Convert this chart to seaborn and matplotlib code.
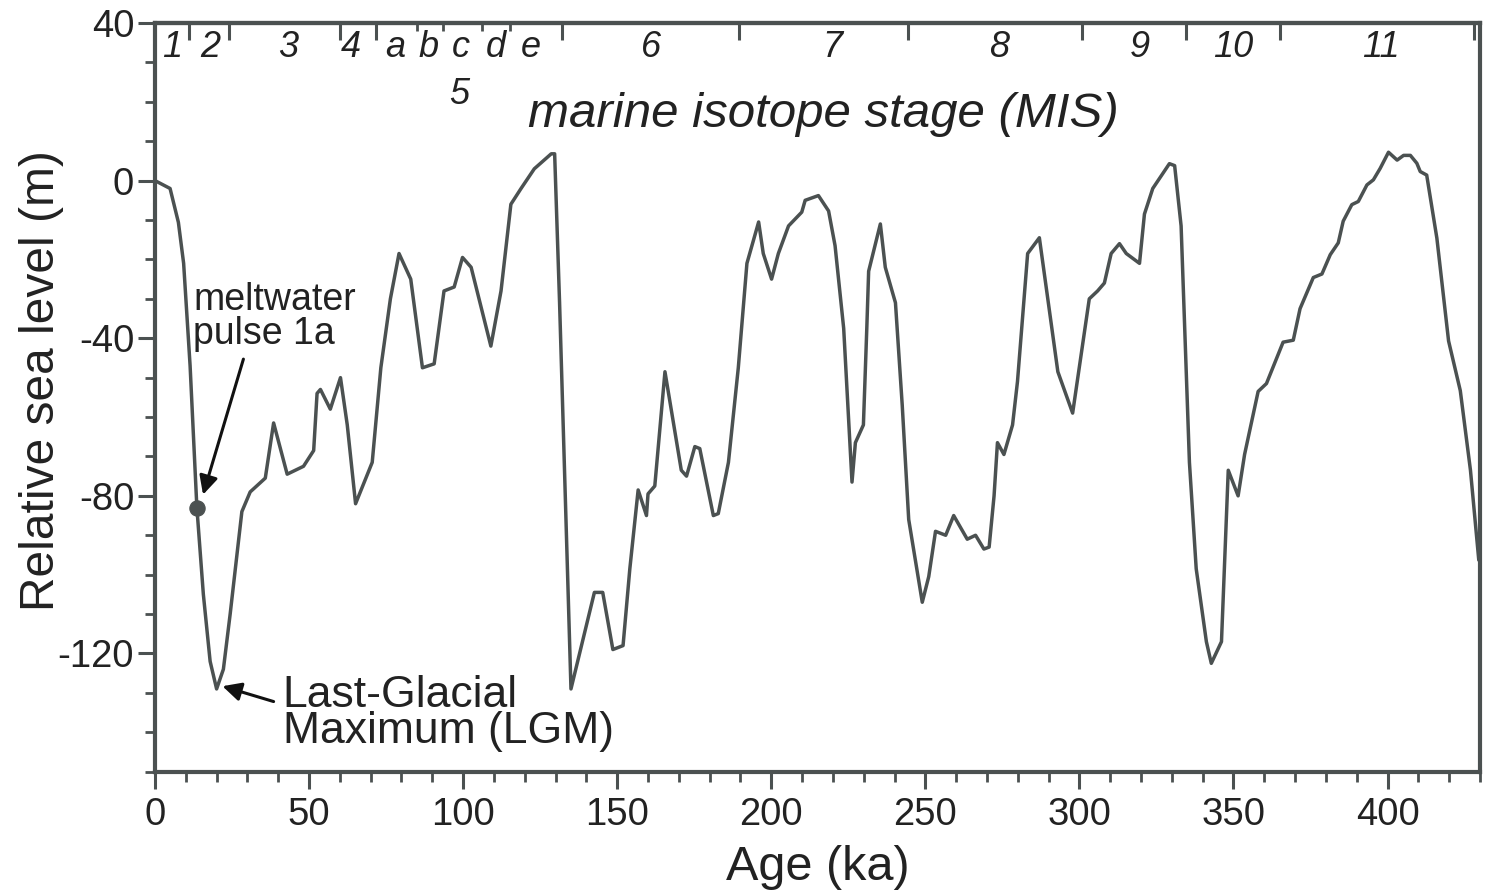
import matplotlib
matplotlib.use("Agg")
import matplotlib.pyplot as plt
import seaborn as sns
import pandas as pd

# ---- data ----
age_ka = [0, 4.9, 7.6, 9.3, 11.4, 13.6, 15.7, 17.9, 20.0, 22.2, 24.4, 28.2, 30.9, 35.8,
          38.5, 42.9, 48.2, 51.5, 52.6, 53.7, 56.9, 60.2, 62.4, 65.1, 70.5, 73.3, 76.4,
          79.2, 83.0, 86.8, 90.6, 93.8, 97.1, 99.8, 102.6, 109.0, 112.3, 115.5, 118.8,
          123.1, 128.6, 129.7, 131.3, 135.0, 142.6, 145.3, 148.6, 151.9, 154.1, 156.8,
          159.5, 160.0, 162.2, 165.5, 170.8, 172.5, 175.2, 176.8, 181.2, 182.8, 186.1,
          189.3, 192.1, 195.9, 197.4, 200.1, 202.3, 205.6, 209.9, 211.0, 215.3, 218.6,
          220.7, 223.5, 226.2, 227.3, 229.9, 231.0, 231.6, 235.4, 237.0, 240.3, 242.5,
          244.6, 249.0, 251.1, 253.3, 256.6, 259.2, 263.6, 266.3, 269.0, 270.7, 272.3,
          273.4, 275.5, 278.3, 279.9, 283.2, 287.0, 293.0, 297.8, 303.2, 305.9, 308.1,
          310.3, 313.0, 315.2, 319.5, 321.1, 323.8, 329.2, 330.9, 333.0, 335.7, 337.9,
          341.2, 342.8, 346.1, 348.3, 351.5, 353.6, 358.0, 360.7, 366.1, 369.4, 371.6,
          375.9, 378.7, 381.4, 384.0, 385.6, 388.4, 390.5, 393.3, 395.4, 397.6, 400.3,
          403.1, 405.2, 407.4, 409.5, 410.6, 412.7, 416.0, 419.8, 423.6, 426.9, 429.6]
sea_level_m = [0, -2, -10.6, -21, -47, -83, -105, -122, -129, -124, -110, -84, -79, -75.5,
               -61.5, -74.5, -72.5, -68.5, -54, -53, -58, -50, -62, -82, -71.5, -47.5, -30,
               -18.5, -25, -47.5, -46.5, -28, -27, -19.5, -22, -42, -28, -6, -2,
               3, 6.8, 6.8, -31, -129, -104.5, -104.5, -119, -118, -98.5, -78.5,
               -85, -79.5, -77.5, -48.5, -73.5, -75, -67.5, -68, -85, -84.5, -71.5,
               -47.5, -21, -10.5, -18.5, -25, -18.5, -11.5, -8, -5, -3.8, -7.7,
               -16.5, -37.5, -76.5, -66.5, -62, -37.5, -23, -11, -22, -31, -57,
               -86, -107, -100.5, -89, -90, -85, -91, -90, -93.5, -93, -80,
               -66.5, -69.5, -62, -51, -18.5, -14.5, -48.5, -59, -30, -28, -26,
               -18.5, -16, -18.5, -21, -8.5, -2, 4.3, 3.8, -11.5, -71.5, -98.5,
               -117, -122.5, -117, -73.5, -80, -69.5, -53.5, -51.5, -41, -40.5, -32.5,
               -24.6, -23.7, -18.8, -15.8, -10.3, -6.1, -5.3, -1.1, 0.2, 3.1, 7.2,
               5.2, 6.4, 6.4, 4.4, 2.3, 1.4, -14.6, -40.7, -53.3, -73.5, -96.3]

mwp_age, mwp_level = [13.6], [-83]

stage_bounds = [11.1, 24.1, 59.9, 71.6, 132.1, 189.4, 244.4, 300.7, 334.6, 365.2, 428.0]
substage_bounds = [84.9, 93.4, 106.1, 115.2]
stage_labels = ["1", "2", "3", "4", "a", "b", "c", "d", "e", "6", "7", "8", "9", "10", "11"]
stage_label_age = [5.5, 17.9, 43.3, 63.5, 78.1, 88.9, 99.3, 110.7, 122.0, 161.1, 219.7,
                   274.0, 319.6, 349.9, 397.7]

x_ticks = [0, 50, 100, 150, 200, 250, 300, 350, 400]
y_ticks = [-120, -80, -40, 0, 40]

# ---- style ----
sns.set_theme(style="white")
plt.rcParams["font.family"] = ["Liberation Sans", "DejaVu Sans"]
plt.rcParams["axes.unicode_minus"] = False
line_c = "#4b5151"
text_c = "#222222"

fig = plt.figure(figsize=(14.93, 8.94), dpi=100)
ax = fig.add_axes([0.1038, 0.1368, 0.8875, 0.8375])

df = pd.DataFrame({"age": age_ka, "rsl": sea_level_m})
sns.lineplot(data=df, x="age", y="rsl", sort=False, estimator=None, ax=ax,
             color=line_c, linewidth=2.5, solid_joinstyle="round")
sns.scatterplot(x=mwp_age, y=mwp_level, ax=ax, color=line_c, s=120,
                edgecolor=line_c, zorder=5)

ax.set_xlim(0, 430)
ax.set_ylim(-150, 40)
ax.set_xticks(x_ticks)
ax.set_xticks(range(0, 431, 10), minor=True)
ax.set_yticks(y_ticks)
ax.set_yticks(range(-150, 41, 10), minor=True)
ax.tick_params(axis="both", which="major", direction="out", length=12, width=2.2,
               color=line_c, labelsize=27.5, labelcolor=text_c)
ax.tick_params(axis="x", which="major", pad=6)
ax.tick_params(axis="y", which="major", pad=3)
ax.tick_params(axis="both", which="minor", direction="out", length=7, width=2.0,
               color=line_c)
ax.tick_params(left=True, bottom=True, which="both")
for s in ax.spines.values():
    s.set_color(line_c)
    s.set_linewidth(3.0)

ax.set_xlabel("Age (ka)", fontsize=35, color=text_c, labelpad=9)
ax.set_ylabel("Relative sea level (m)", fontsize=34.5, color=text_c)
ax.yaxis.set_label_coords(-0.069, 0.523)

# stage boundaries on the top axis
sec = ax.secondary_xaxis("top")
sec.set_xticks(stage_bounds)
sec.set_xticks(substage_bounds, minor=True)
sec.tick_params(which="major", direction="in", length=12, width=2.2, color=line_c,
                labeltop=False)
sec.tick_params(which="minor", direction="in", length=6, width=2.0, color=line_c)
sec.spines["top"].set_color(line_c)
sec.spines["top"].set_linewidth(3.0)

for lab, a in zip(stage_labels, stage_label_age):
    ax.text(a, 33.7, lab, fontsize=26, style="italic", color=text_c,
            ha="center", va="center")
ax.text(98.9, 21.8, "5", fontsize=26, style="italic", color=text_c,
        ha="center", va="center")
ax.text(217, 16.8, "marine isotope stage (MIS)", fontsize=35.5, style="italic",
        color=text_c, ha="center", va="center")

ax.annotate("", xy=(15.6, -79.7), xytext=(28.7, -45.3),
            arrowprops=dict(arrowstyle="-|>", color="#111111", lw=2.2,
                            mutation_scale=28, shrinkA=0, shrinkB=0))
ax.text(12.4, -34.7, "meltwater\npulse 1a", fontsize=27, color=text_c,
        ha="left", va="center", linespacing=0.92)

ax.annotate("", xy=(21.9, -128.3), xytext=(38.5, -132.2),
            arrowprops=dict(arrowstyle="-|>", color="#111111", lw=2.2,
                            mutation_scale=28, shrinkA=0, shrinkB=0))
ax.text(41.4, -135.2, "Last-Glacial\nMaximum (LGM)", fontsize=32, color=text_c,
        ha="left", va="center", linespacing=0.85)

fig.savefig("out.png", dpi=100, facecolor="white")
